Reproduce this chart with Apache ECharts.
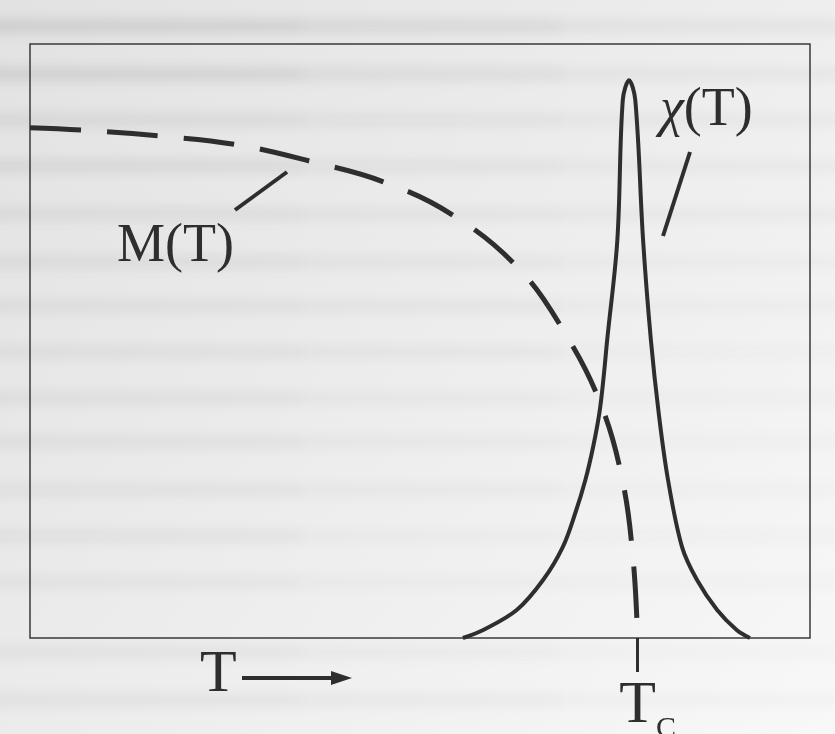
<!DOCTYPE html>
<html>
<head>
<meta charset="utf-8">
<script src="https://cdn.jsdelivr.net/npm/echarts@6/dist/echarts.min.js"></script>
<style>
  html, body { margin: 0; padding: 0; background: #ececec; }
  #chart { width: 835px; height: 734px; }
</style>
</head>
<body>
<div id="chart"></div>
<script>
// Temperature in arbitrary units; the Curie temperature sits where M(T) vanishes
const TC = 77.9;

// Spontaneous magnetisation M(T), falling to zero at TC
const magT   = [0, 6.7, 16.7, 26.7, 36.4, 45.3, 54.2, 62.8, 68.6, 73.1, 75.9, 77.3, 77.9];
const magVal = [85.9, 85.5, 84.5, 83.0, 80.1, 76.8, 71.2, 62.0, 51.3, 39.6, 26.9, 13.6, 0];

// Magnetic susceptibility chi(T), sharply peaked near TC
const chiT   = [55.5, 58.1, 62.4, 65.8, 68.3, 69.9, 71.2, 72.2, 73.0, 73.5, 74.0, 75.3, 76.0, 76.8,
                77.6, 78.6, 79.6, 80.6, 81.8, 83.6, 85.5, 88.1, 90.6, 92.3];
const chiVal = [0, 1.35, 4.7, 9.8, 15.3, 21.0, 26.6, 32.2, 37.9, 43.4, 50.2, 67.0, 90.6, 93.9,
                90.6, 67.0, 50.2, 37.9, 26.6, 15.3, 9.8, 4.7, 1.35, 0];

// Curve and axis captions
const labelM = 'M(T)';
const labelChiSym = 'χ';
const labelChiArg = '(T)';
const labelT = 'T';
const labelTcMain = 'T';
const labelTcSub = 'C';

const INK = '#2e2e2e';
const SERIF = '"Liberation Serif", "DejaVu Serif", serif';

const zip = (xs, ys) => xs.map((x, i) => [x, ys[i]]);

// Faint blurred grey streaks of the paper behind the figure:
// [row y, opacity on the left, in the middle, on the right]
const streakRows = [
  [26, 0.16, 0.13, 0.07], [74, 0.15, 0.10, 0.06], [120, 0.10, 0.07, 0.05],
  [166, 0.11, 0.07, 0.05], [214, 0.09, 0.06, 0.05], [262, 0.09, 0.06, 0.04],
  [306, 0.08, 0.06, 0.04], [352, 0.08, 0.06, 0.03], [398, 0.08, 0.05, 0.03],
  [442, 0.08, 0.05, 0.03], [490, 0.07, 0.05, 0.03], [536, 0.07, 0.04, 0.03],
  [582, 0.06, 0.04, 0.03], [652, 0.07, 0.05, 0.03], [700, 0.08, 0.06, 0.04]
];
const streakSpans = [[-20, 300], [300, 560], [560, 860]];
const OFF = 3000;
const streaks = [];
streakRows.forEach(([y, a0, a1, a2]) => {
  [a0, a1, a2].forEach((a, k) => {
    const [x0, x1] = streakSpans[k];
    streaks.push({
      type: 'rect', silent: true, z: -10,
      shape: { x: x0, y: y - 6 - OFF, width: x1 - x0, height: 12 },
      style: {
        fill: '#000',
        shadowColor: 'rgba(90,90,90,' + a + ')',
        shadowBlur: 12, shadowOffsetX: 0, shadowOffsetY: OFF
      }
    });
  });
});

const chart = echarts.init(document.getElementById('chart'));

chart.setOption({
  animation: false,
  backgroundColor: {
    type: 'linear', x: 0, y: 0, x2: 1, y2: 1,
    colorStops: [
      { offset: 0, color: '#e2e2e2' },
      { offset: 0.6, color: '#efefef' },
      { offset: 1, color: '#f8f8f8' }
    ]
  },
  grid: {
    left: 30, right: 25, top: 44, bottom: 96,
    outerBoundsMode: 'none', containLabel: false,
    show: true, borderColor: '#3a3a3a', borderWidth: 1.5,
    backgroundColor: 'transparent'
  },
  xAxis: {
    type: 'value', min: 0, max: 100,
    axisLine: { show: false },
    splitLine: { show: false },
    axisTick: {
      show: true, customValues: [TC], length: 34, inside: false,
      lineStyle: { color: INK, width: 3 }
    },
    axisLabel: {
      show: true, customValues: [TC], margin: 38,
      formatter: () => '{t|' + labelTcMain + '}{c|' + labelTcSub + '}',
      rich: {
        t: { fontFamily: SERIF, fontSize: 60, color: INK, verticalAlign: 'bottom', lineHeight: 60, padding: [0, 0, 0, 20] },
        c: { fontFamily: SERIF, fontSize: 30, color: INK, verticalAlign: 'bottom', lineHeight: 30, padding: [0, 0, -8, 0] }
      }
    }
  },
  yAxis: {
    type: 'value', min: 0, max: 100, show: false
  },
  series: [
    {
      name: 'M(T)', type: 'line', data: zip(magT, magVal),
      smooth: 0.4, showSymbol: false, silent: true,
      lineStyle: { color: INK, width: 5, type: [51, 26], cap: 'butt' },
      z: 3
    },
    {
      name: 'χ(T)', type: 'line', data: zip(chiT, chiVal),
      smooth: 0.35, showSymbol: false, silent: true,
      lineStyle: { color: INK, width: 4, cap: 'butt' },
      z: 4
    }
  ],
  graphic: streaks.concat([
    // M(T) caption with leader line
    { type: 'text', x: 117, y: 247, z: 10,
      style: { text: labelM, font: '54px ' + SERIF, fill: INK, verticalAlign: 'middle' } },
    { type: 'line', z: 10, shape: { x1: 235, y1: 210, x2: 287, y2: 172 },
      style: { stroke: INK, lineWidth: 4 } },
    // chi(T) caption with leader line
    { type: 'text', x: 660, y: 111, z: 10,
      style: {
        text: '{g|' + labelChiSym + '}{a|' + labelChiArg + '}',
        verticalAlign: 'middle',
        rich: {
          g: { font: 'italic 54px ' + SERIF, fill: INK },
          a: { font: '54px ' + SERIF, fill: INK }
        }
      } },
    { type: 'line', z: 10, shape: { x1: 690, y1: 152, x2: 663, y2: 236 },
      style: { stroke: INK, lineWidth: 4 } },
    // temperature direction: T followed by an arrow
    { type: 'text', x: 200, y: 675, z: 10,
      style: { text: labelT, font: '60px ' + SERIF, fill: INK, verticalAlign: 'middle' } },
    { type: 'line', z: 10, shape: { x1: 242, y1: 678, x2: 336, y2: 678 },
      style: { stroke: INK, lineWidth: 4 } },
    { type: 'polygon', z: 10, shape: { points: [[352, 678], [331, 671], [331, 685]] },
      style: { fill: INK } }
  ])
});
</script>
</body>
</html>
